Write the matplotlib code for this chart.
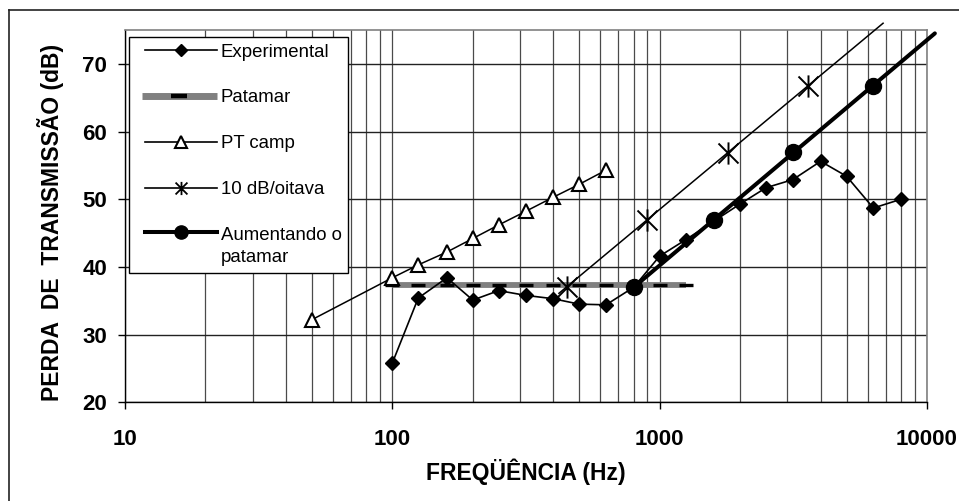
import matplotlib
matplotlib.use('Agg')
import matplotlib.pyplot as plt
from matplotlib.path import Path
from matplotlib.lines import Line2D
from matplotlib.legend_handler import HandlerLine2D
from matplotlib.ticker import LogLocator, NullFormatter, FixedLocator, FixedFormatter

plt.rcParams['font.family'] = ['Liberation Sans', 'DejaVu Sans']

# ---------------- data ----------------
exp_freq = [100, 125, 160, 200, 250, 315, 400, 500, 630, 800,
            1000, 1250, 1600, 2000, 2500, 3150, 4000, 5000, 6300, 8000]
exp_vals = [25.8, 35.4, 38.4, 35.1, 36.5, 35.8, 35.3, 34.5, 34.4, 37.0,
            41.6, 44.0, 46.8, 49.3, 51.7, 52.9, 55.6, 53.4, 48.7, 50.0]

patamar_freq = [100, 125, 160, 200, 250, 315, 400, 500, 630, 800, 1000, 1250]
patamar_vals = [37.4] * len(patamar_freq)

ptcamp_freq = [50, 100, 125, 160, 200, 250, 315, 400, 500, 630]
ptcamp_vals = [32.2, 38.4, 40.3, 42.2, 44.2, 46.2, 48.2, 50.3, 52.2, 54.3]

oct_freq = [450, 900, 1800, 3600]
oct_vals = [37.1, 46.9, 56.9, 66.8]
oct_line_freq = [420, 6850]
oct_line_vals = [36.1, 76.0]

aum_freq = [800, 1600, 3150, 6300]
aum_vals = [37.0, 46.9, 57.0, 66.8]
aum_line_freq = [800, 10700]
aum_line_vals = [37.0, 74.5]

xtick_vals = [10, 100, 1000, 10000]
xtick_labels = ['10', '100', '1000', '10000']
ytick_vals = [20, 30, 40, 50, 60, 70]
ytick_labels = ['20', '30', '40', '50', '60', '70']

labels = ['Experimental', 'Patamar', 'PT camp', '10 dB/oitava', 'Aumentando o\npatamar']


class ShiftHandler(HandlerLine2D):
    """Legend line handler with an inset start and optional upward shift."""
    def __init__(self, dx=0.0, dy=0.0, **kw):
        super().__init__(**kw)
        self.dx = dx
        self.dy = dy

    def create_artists(self, legend, orig_handle, xdescent, ydescent, width,
                       height, fontsize, trans):
        return super().create_artists(legend, orig_handle, xdescent - self.dx,
                                      ydescent - 2 * self.dy, width - self.dx,
                                      height, fontsize, trans)


# ---------------- figure ----------------
W, H = 959, 501
fig = plt.figure(figsize=(W / 100, H / 100), dpi=100)
ax = fig.add_axes([125 / W, 1 - 402.3 / H, 802 / W, 372.3 / H])
ax.set_xscale('log')
ax.set_xlim(10, 10000)
ax.set_ylim(20, 75)

# grid
ax.xaxis.set_major_locator(FixedLocator(xtick_vals))
ax.xaxis.set_major_formatter(FixedFormatter(xtick_labels))
ax.xaxis.set_minor_locator(LogLocator(base=10, subs=range(2, 10)))
ax.xaxis.set_minor_formatter(NullFormatter())
ax.set_yticks(ytick_vals)
ax.set_yticklabels(ytick_labels)
ax.grid(True, which='major', axis='y', color='#222222', lw=1.0, zorder=0)
ax.grid(True, which='both', axis='x', color='#4a4a4a', lw=0.9, zorder=0)
ax.set_axisbelow(True)
ax.tick_params(axis='x', which='minor', length=0)
ax.tick_params(axis='both', which='major', direction='out', length=5, width=1,
               color='black')
ax.tick_params(axis='x', which='major', pad=14)
ax.tick_params(axis='y', which='major', pad=8)
for lab in ax.get_xticklabels() + ax.get_yticklabels():
    lab.set_fontsize(16)
    lab.set_fontweight('bold')

for s in ['left', 'bottom']:
    ax.spines[s].set_color('black')
    ax.spines[s].set_linewidth(1.0)
for s in ['top', 'right']:
    ax.spines[s].set_color('#808080')
    ax.spines[s].set_linewidth(1.2)

# star marker (vertical + X)
star = Path([(0, -1), (0, 1), (-0.9, -0.9), (0.9, 0.9), (-0.9, 0.9), (0.9, -0.9)],
            [Path.MOVETO, Path.LINETO, Path.MOVETO, Path.LINETO, Path.MOVETO, Path.LINETO])

# series
ax.plot(patamar_freq, patamar_vals, color='#808080', lw=4.2, solid_capstyle='butt',
        marker='_', ms=9.5, mew=2.4, mec='black', zorder=2)
ax.plot(exp_freq, exp_vals, color='black', lw=1.2, marker='D', ms=7.0,
        mfc='black', mec='black', zorder=3)
ax.plot(ptcamp_freq, ptcamp_vals, color='black', lw=1.1, marker='^', ms=9.5,
        mfc='white', mec='black', mew=1.5, zorder=3)
ax.plot(oct_line_freq, oct_line_vals, color='black', lw=1.1, clip_on=False, zorder=3)
ax.plot(oct_freq, oct_vals, ls='none', marker=star, ms=16, mec='black', mew=1.4,
        mfc='none', zorder=4)
ax.plot(aum_line_freq, aum_line_vals, color='black', lw=2.9, clip_on=False,
        solid_capstyle='round', zorder=4)
ax.plot(aum_freq, aum_vals, ls='none', marker='o', ms=11.5, mfc='black',
        mec='black', zorder=5)

# labels
ax.set_xlabel('FREQÜÊNCIA (Hz)', fontsize=16.5, fontweight='bold', labelpad=6)
ax.set_ylabel('PERDA  DE  TRANSMISSÃO (dB)', fontsize=16.5, fontweight='bold',
              labelpad=13)
ax.yaxis.label.set_y(0.482)

# legend proxies
handles = [
    Line2D([], [], color='black', lw=1.2, marker='D', ms=6.2, mfc='black', mec='black'),
    Line2D([], [], color='#808080', lw=5, marker='_', ms=11, mew=3.2, mec='black',
           solid_capstyle='butt'),
    Line2D([], [], color='black', lw=1.2, marker='^', ms=8.5, mfc='white', mec='black',
           mew=1.5),
    Line2D([], [], color='black', lw=1.2, marker=star, ms=9.5, mec='black', mew=1.3,
           mfc='none'),
    Line2D([], [], color='black', lw=2.9, marker='o', ms=9.5, mfc='black', mec='black'),
]
hmap = {handles[0]: ShiftHandler(dx=6.8),
        handles[1]: ShiftHandler(dx=4.5),
        handles[2]: ShiftHandler(dx=6.8),
        handles[3]: ShiftHandler(dx=6.8),
        handles[4]: ShiftHandler(dx=6.8, dy=10.5)}
leg = ax.legend(handles, labels, loc='upper left',
                bbox_to_anchor=(129 / W, 1 - 37 / H), bbox_transform=fig.transFigure,
                borderaxespad=0, fontsize=13.4, frameon=True, fancybox=False,
                edgecolor='black', framealpha=1, handlelength=4.38, handletextpad=0.2,
                labelspacing=1.55, borderpad=0.35, numpoints=1, handler_map=hmap)
leg.get_texts()[4].set_linespacing(1.4)
leg.get_frame().set_linewidth(1.0)
leg.set_zorder(10)

# outer frame (chart area border)
fig.add_artist(Line2D([9 / W, 9 / W], [0, 1 - 10 / H], color='#222222', lw=1.2,
                      transform=fig.transFigure))
fig.add_artist(Line2D([9 / W, 1], [1 - 10 / H, 1 - 10 / H], color='#222222', lw=1.2,
                      transform=fig.transFigure))

fig.savefig('out.png', dpi=100)
